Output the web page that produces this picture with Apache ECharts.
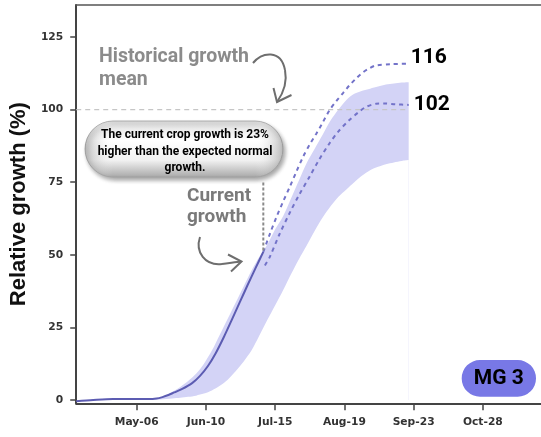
<!DOCTYPE html>
<html><head><meta charset="utf-8">
<script src="https://cdn.jsdelivr.net/npm/echarts@6/dist/echarts.min.js"></script>
<style>html,body{margin:0;padding:0;background:#fff}#c{width:541px;height:437px}</style>
</head><body><div id="c"></div>
<script>
// x values are days counted from May-06
const tickDays = [0, 35, 70, 105, 140, 175];
const tickLabels = ['May-06', 'Jun-10', 'Jul-15', 'Aug-19', 'Sep-23', 'Oct-28'];
const yTicks = [0, 25, 50, 75, 100, 125];

const currentGrowth = [[-30.6,-0.4],[-22,0],[-12,0.3],[-2,0.3],[6,0.3],[10,0.5],[13,1],[16,1.7],[19,2.6],[23,3.8],[28,5.8],[32,8.3],[36,11.7],[40,16.2],[44,21.6],[48,27.5],[52,33.5],[56,39.5],[60,45.3],[64,51]];

const bandDays = [8,12,15,18,22,26,30,34,38,42,46,50,54,58,62,66,70,74,78,82,86,90,94,98,102,106,110,114,118,122,126,130,134,137.5];
const bandLow  = [0.1,0.2,0.35,0.55,0.8,1.1,1.5,2.2,3.3,4.9,7,9.9,13.2,17,22.2,27.5,32.6,37.8,43.3,48.5,53.3,58.3,62.8,66.7,70,72.5,75,77.3,79.1,80.3,81.2,81.8,82.3,82.6];
const bandHigh = [0.3,0.9,1.6,2.8,4.5,6.5,9,12.5,17,22.5,28,33.5,39,44.5,49.3,53.5,58.8,63.3,69.4,75.6,81.7,86.5,91.3,96.2,100,103.3,105.4,106.5,107.2,107.9,108.6,109,109.3,109.4];

const projectionHigh = [[64,51],[67.5,57.5],[70.7,63.1],[74,68.3],[77.4,73.4],[80.7,78.6],[84.1,83.7],[87.5,88],[90.8,91.7],[94,95.5],[97.5,99.8],[101,103],[104.2,105.6],[107.5,108.3],[110.9,110.7],[114,112.6],[117.6,114.2],[121,115.2],[128.5,115.6],[137.5,115.8]];
const projectionLow = [[64.8,46.3],[67.3,49.3],[72,56.8],[77.4,64.5],[82,70.5],[87.4,76.9],[92,82.5],[97.5,88.4],[102,92.5],[107.5,96.4],[112,99],[115.9,100.9],[121,102],[125,102.1],[131,101.8],[137.5,101.6]];

const historicalMean = [[-30.6,100],[137.5,100]];
const currentMarker = [[64,51.5],[64,75]];

const chart = echarts.init(document.getElementById('c'), null, {renderer:'canvas'});
const axisCol = '#444';
const arrowStyle = {fill: 'none', stroke: '#6e6e6e', lineWidth: 2};
chart.setOption({
  animation: false,
  grid: {left: 73.5, right: 0, top: 5, bottom: 33.7},
  xAxis: [{
    type: 'value', min: -30.6, max: 204.4,
    axisLine: {show: true, onZero: false, lineStyle: {color: axisCol, width: 2}},
    axisTick: {show: true, length: 7, lineStyle: {color: axisCol, width: 1.5}, customValues: tickDays},
    axisLabel: {customValues: tickDays, margin: 13, fontFamily: 'DejaVu Sans', fontWeight: 'bold', fontSize: 10.7, color: '#333',
      formatter: v => tickLabels[tickDays.indexOf(v)] || ''},
    splitLine: {show: false}
  }, {
    type: 'value', position: 'top', min: -30.6, max: 204.4,
    axisLine: {show: true, onZero: false, lineStyle: {color: '#555', width: 1.5}},
    axisTick: {show: false}, axisLabel: {show: false}, splitLine: {show: false}
  }],
  yAxis: {
    type: 'value', min: -1.14, max: 136,
    name: 'Relative growth (%)', nameLocation: 'middle', nameGap: 44,
    nameTextStyle: {fontFamily: 'Liberation Sans', fontWeight: 'bold', fontSize: 22, color: '#111'},
    axisLine: {show: true, onZero: false, lineStyle: {color: axisCol, width: 2}},
    axisTick: {show: true, length: 6, lineStyle: {color: axisCol, width: 1.5}, customValues: yTicks},
    axisLabel: {customValues: yTicks, margin: 13, fontFamily: 'DejaVu Sans', fontWeight: 'bold', fontSize: 10.7, color: '#333'},
    splitLine: {show: false}
  },
  series: [
    {type: 'line', symbol: 'none', smooth: 0.3, lineStyle: {width: 0},
      areaStyle: {color: '#d3d3f6', opacity: 1, origin: 0},
      data: bandDays.map((d, i) => [d, bandHigh[i]])},
    {type: 'line', symbol: 'none', smooth: 0.3, lineStyle: {width: 0},
      areaStyle: {color: '#ffffff', opacity: 1, origin: 0},
      data: bandDays.map((d, i) => [d, bandLow[i]])},
    {type: 'line', symbol: 'none', data: historicalMean,
      lineStyle: {color: '#c6c6c6', width: 1.3, type: [5, 4]}},
    {type: 'line', symbol: 'none', smooth: 0.3, data: projectionHigh,
      lineStyle: {color: '#7373c9', width: 2, type: [4, 4]},
      endLabel: {show: true, formatter: p => Math.round(p.value[1]), fontFamily: 'Roboto', fontWeight: 'bold', fontSize: 21, color: '#000', distance: 2, offset: [0, -6]}},
    {type: 'line', symbol: 'none', smooth: 0.3, data: projectionLow,
      lineStyle: {color: '#7373c9', width: 2, type: [4, 4]},
      endLabel: {show: true, formatter: p => Math.round(p.value[1]), fontFamily: 'Roboto', fontWeight: 'bold', fontSize: 21, color: '#000', distance: 5}},
    {type: 'line', symbol: 'none', smooth: 0.3, data: currentGrowth,
      lineStyle: {color: '#5c5cb2', width: 2}},
    {type: 'line', symbol: 'none', data: currentMarker,
      lineStyle: {color: '#8a8a8a', width: 2, type: [3, 2]}}
  ],
  graphic: [
    {type: 'rect', z: 100, shape: {x: 85, y: 121, width: 198, height: 56, r: 28},
      style: {fill: new echarts.graphic.LinearGradient(0, 0, 0, 1, [
        {offset: 0, color: '#dcdcdc'}, {offset: 0.35, color: '#ffffff'}, {offset: 0.7, color: '#f1f1f1'}, {offset: 1, color: '#a8a8a8'}]),
        stroke: '#a0a0a0', lineWidth: 0.8,
        shadowColor: 'rgba(0,0,0,0.35)', shadowBlur: 4, shadowOffsetX: 2, shadowOffsetY: 3}},
    {type: 'rect', z: 101, shape: {x: 85, y: 121, width: 198, height: 56, r: 28},
      style: {fill: new echarts.graphic.LinearGradient(0, 0, 1, 0, [
        {offset: 0, color: 'rgba(110,110,110,0.45)'}, {offset: 0.14, color: 'rgba(255,255,255,0)'},
        {offset: 0.86, color: 'rgba(255,255,255,0)'}, {offset: 1, color: 'rgba(110,110,110,0.45)'}])}},
    {type: 'text', z: 102, x: 185, y: 151.5,
      style: {text: 'The current crop growth is 23%\nhigher than the expected normal\ngrowth.', align: 'center', verticalAlign: 'middle',
        font: 'bold 12px Roboto', lineHeight: 16.6, fill: '#000'}},
    {type: 'text', z: 102, x: 99, y: 46,
      style: {text: 'Historical growth\nmean', align: 'left', verticalAlign: 'top', font: 'bold 19.5px Roboto', lineHeight: 23, fill: '#8b8b8b'}},
    {type: 'text', z: 102, x: 187, y: 185,
      style: {text: 'Current\ngrowth', align: 'left', verticalAlign: 'top', font: 'bold 19px Roboto', lineHeight: 21.5, fill: '#7a7a7a'}},
    {type: 'bezierCurve', z: 102, shape: {x1: 253, y1: 63, cpx1: 262, cpy1: 52, cpx2: 281, cpy2: 49, x2: 285, y2: 70}, style: arrowStyle},
    {type: 'bezierCurve', z: 102, shape: {x1: 285, y1: 70, cpx1: 288, cpy1: 85, cpx2: 282, cpy2: 95, x2: 277, y2: 102}, style: arrowStyle},
    {type: 'polyline', z: 102, shape: {points: [[273.5,88],[277,102],[291.5,95]]}, style: arrowStyle},
    {type: 'bezierCurve', z: 102, shape: {x1: 200, y1: 237, cpx1: 195, cpy1: 252, cpx2: 205, cpy2: 266, x2: 222, y2: 264}, style: arrowStyle},
    {type: 'bezierCurve', z: 102, shape: {x1: 222, y1: 264, cpx1: 230, cpy1: 263, cpx2: 236, cpy2: 262, x2: 241, y2: 261.5}, style: arrowStyle},
    {type: 'polyline', z: 102, shape: {points: [[228,254.5],[241.5,261.5],[231,271.5]]}, style: arrowStyle},
    {type: 'rect', z: 102, shape: {x: 461.7, y: 360, width: 74.3, height: 36.7, r: 18.3},
      style: {fill: '#7878e6'}},
    {type: 'text', z: 103, x: 498.8, y: 378.5,
      style: {text: 'MG 3', align: 'center', verticalAlign: 'middle', font: 'bold 21px Roboto', fill: '#000'}}
  ]
});
</script></body></html>
